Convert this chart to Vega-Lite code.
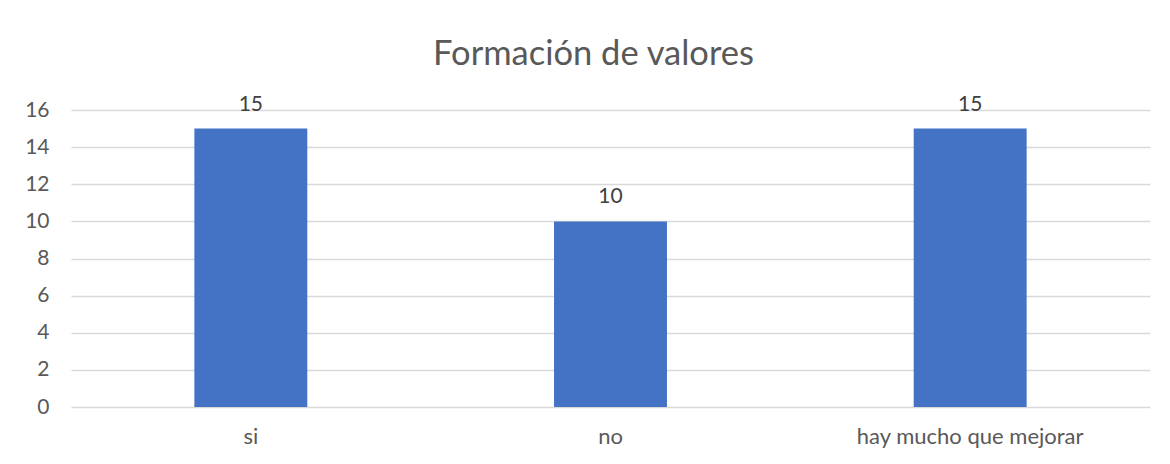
{
  "$schema": "https://vega.github.io/schema/vega-lite/v6.json",
  "autosize": {"type": "none"},
  "width": 1079,
  "height": 297,
  "padding": {"left": 71, "top": 110, "right": 20, "bottom": 57},
  "background": "white",
  "title": {
    "text": "Formación de valores",
    "anchor": "middle",
    "frame": "group",
    "font": "Lato",
    "fontSize": 34.5,
    "fontWeight": "normal",
    "color": "#595959",
    "baseline": "alphabetic",
    "offset": -6,
    "dx": -17
  },
  "data": {"values": [
    {"cat": "si", "val": 15},
    {"cat": "no", "val": 10},
    {"cat": "hay mucho que mejorar", "val": 15}
  ]},
  "encoding": {
    "x": {"field": "cat", "type": "nominal", "sort": null,
      "scale": {"paddingInner": 0.686, "paddingOuter": 0.343},
      "axis": {"title": null, "labelAngle": 0, "ticks": false, "domain": false, "labelLimit": 0,
        "labelFont": "Lato", "labelFontSize": 22, "labelColor": "#595959", "labelPadding": 19}},
    "y": {"field": "val", "type": "quantitative",
      "scale": {"domain": [0, 16]},
      "axis": {"title": null, "values": [0,2,4,6,8,10,12,14,16], "ticks": false, "domain": false,
        "grid": true, "gridColor": "#d9d9d9", "gridWidth": 1.3,
        "labelFont": "Lato", "labelFontSize": 21, "labelColor": "#595959", "labelPadding": 22}}
  },
  "layer": [
    {"mark": {"type": "bar", "color": "#4472C4"}},
    {"mark": {"type": "text", "baseline": "alphabetic", "dy": -18, "font": "Lato", "fontSize": 21, "color": "#404040"},
      "encoding": {"text": {"field": "val", "type": "quantitative"}}}
  ],
  "config": {"view": {"stroke": null}}
}
